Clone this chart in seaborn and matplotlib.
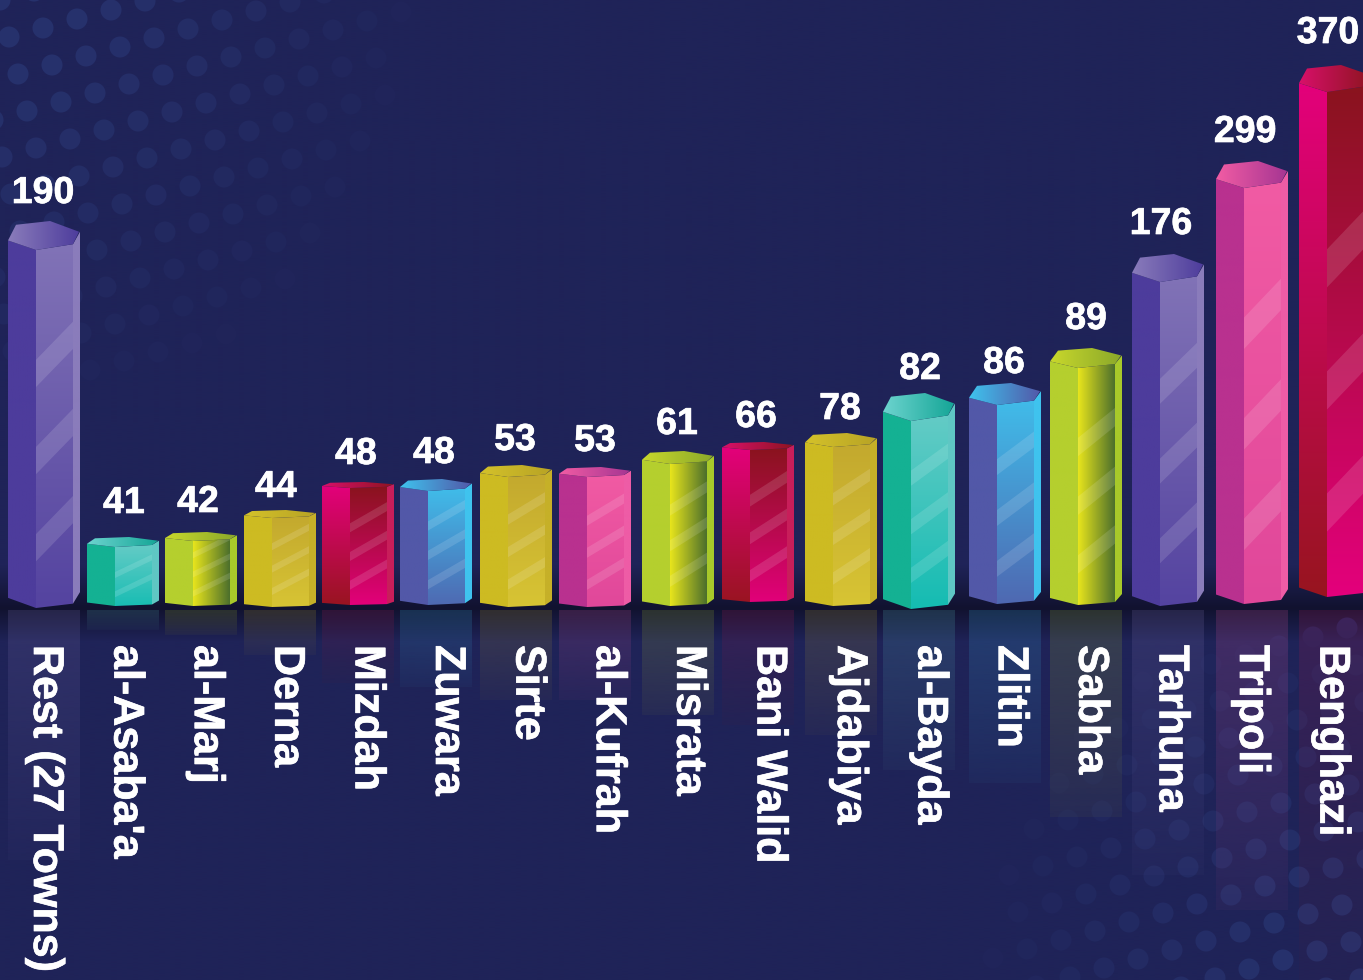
import numpy as np
import pandas as pd
import seaborn as sns
import matplotlib.pyplot as plt
import matplotlib.patheffects as pe
from matplotlib.colors import to_rgb
from matplotlib.patches import Polygon

# the picture's bars are not drawn to scale with their numbers, so both are kept
towns = ["Rest (27 Towns)", "al-Asaba'a", "al-Marj", "Derna", "Mizdah", "Zuwara", "Sirte", "al-Kufrah",
         "Misrata", "Bani Walid", "Ajdabiya", "al-Bayda", "Zlitin", "Sabha", "Tarhuna", "Tripoli", "Benghazi"]
values = [190, 41, 42, 44, 48, 48, 53, 53, 61, 66, 78, 82, 86, 89, 176, 299, 370]
bar_heights = [389, 73, 78, 100, 128, 131, 145, 143, 159, 168, 177, 217, 227, 262, 356, 449, 545]
reflections = [250, 20, 25, 45, 73, 77, 90, 90, 105, 115, 125, 160, 173, 207, 265, 300, 375]
themes = ["violet", "teal", "lime", "gold", "crimson", "sky", "gold", "pink",
          "lime", "crimson", "gold", "teal", "sky", "lime", "violet", "pink", "crimson"]

# layout, in pixels
bar_left = [8, 87, 165, 244, 322, 400, 480, 559, 642, 722, 805, 883, 969, 1050, 1132, 1216, 1299]
cap_depth = [29, 10, 9, 8, 6, 12, 12, 10, 13, 8, 14, 28, 22, 20, 28, 27, 27]
foot_lift = [2, 4, 4, 3, 5, 5, 3, 3, 4, 8, 4, 1, 6, 5, 4, 6, 13]
value_x = [43, 124, 198, 276, 356, 434, 515, 595, 677, 756, 840, 920, 1004, 1086, 1161, 1245, 1328]
value_y = [193, 503, 502, 487, 454, 453, 440, 441, 424, 417, 409, 369, 363, 319, 224, 132, 33]
name_x0, name_step, name_top = 45, 80.4, 645
floor_y = 610

# left top, left bottom, main top, main bottom, strip, cap left, cap right
palette = {
    "violet": ["#4d3c9c", "#4d3c9c", "#8476b8", "#5443a0", "#8a7cbb", "#8a7cbb", "#4d3c9c"],
    "teal": ["#14b193", "#14b193", "#6dcdc8", "#14bcb2", "#5fc7c4", "#6dd4cf", "#14a596"],
    "lime": ["#b5cf2e", "#b5cf2e", "#e8e51c", "#e8e51c", "#a8c92a", "#c9d82c", "#8aa82a"],
    "gold": ["#cdbb22", "#cdbb22", "#c2a72e", "#d8c534", "#c6b028", "#d4c22a", "#b8a325"],
    "crimson": ["#e6007e", "#96151d", "#86141a", "#e6007e", "#c81e5a", "#d8106a", "#8e1420"],
    "sky": ["#5258a8", "#5258a8", "#3fc3ee", "#4f66b0", "#3fc3ee", "#3fc3ee", "#5258a8"],
    "pink": ["#b9318f", "#b9318f", "#f25ca4", "#e0479a", "#ee5ca6", "#f25ca4", "#a53592"],
}

background = "#1f2358"
horizon = "#11122f"

sns.set_theme(style="white")
plt.rcParams["font.family"] = ["Liberation Sans", "DejaVu Sans"]

fig = plt.figure(figsize=(13.63, 9.8), dpi=100)
ax = fig.add_axes([0, 0, 1, 1])


def gradient(extent, first, second, horizontal=False, clip=None, zorder=2, alpha=(1, 1)):
    # first colour is the top (or left) end
    n = 128
    t = np.linspace(0, 1, n)
    rgba = np.zeros((1, n, 4)) if horizontal else np.zeros((n, 1, 4))
    c0, c1 = np.array(to_rgb(first)), np.array(to_rgb(second))
    cols = np.outer(1 - t, c0) + np.outer(t, c1)
    al = alpha[0] + (alpha[1] - alpha[0]) * t
    if horizontal:
        rgba[0, :, :3], rgba[0, :, 3] = cols, al
    else:
        rgba[:, 0, :3], rgba[:, 0, 3] = cols, al
    im = ax.imshow(rgba, extent=extent, origin="upper", aspect="auto", zorder=zorder, interpolation="bilinear")
    if clip is not None:
        im.set_clip_path(clip)
    return im


def polygon(points, zorder):
    patch = Polygon(points, closed=True, transform=ax.transData, facecolor="none", edgecolor="none", zorder=zorder)
    ax.add_patch(patch)
    return patch


# background with the dark band at the floor line
gradient([0, 1363, 45, 610], background, background, zorder=0)
gradient([0, 1363, 2, 45], background, horizon, zorder=0)
gradient([0, 1363, -32, 2], horizon, background, zorder=0)
gradient([0, 1363, -370, -32], background, background, zorder=0)

# dot texture in the corners
ii, jj = np.meshgrid(np.arange(-5, 50), np.arange(-30, 45))
dot_x = (34 * ii + 9 * jj).ravel()
dot_py = (-9 * ii + 37 * jj).ravel()
strength = np.maximum(1 - np.hypot(dot_x, dot_py) / 430, 1 - np.hypot(dot_x - 1363, dot_py - 980) / 400)
keep = (strength > 0.05) & (dot_x > -20) & (dot_x < 1385) & (dot_py > -20) & (dot_py < 1000)
dots = pd.DataFrame({"x": dot_x[keep], "y": floor_y - dot_py[keep], "s": strength[keep]})
sns.scatterplot(data=dots, x="x", y="y", hue="s", hue_norm=(0, 0.8), s=230, linewidth=0, legend=False,
                palette=sns.blend_palette([background, "#26316c"], as_cmap=True), ax=ax, zorder=1)

df = pd.DataFrame({
    "town": towns, "height": bar_heights, "reflection": reflections,
    "left": bar_left, "theme": themes, "depth": cap_depth, "foot": foot_lift,
})
spacing = np.diff(df["left"]).min()

# reflections on the floor
sns.barplot(x=df["left"] + 36.0, y=-df["reflection"], native_scale=True, width=72 / spacing, color=background,
            saturation=1, ax=ax, zorder=2)
for bar, row in zip(ax.containers[-1], df.itertuples()):
    bar.set_alpha(0)
    cols = palette[row.theme]
    gradient([row.left, row.left + 72, -row.reflection, row.foot - 2], cols[4], cols[2], zorder=2,
             clip=bar, alpha=(0.18, 0.04))

# the three visible faces of each prism are three sets of bars
faces = {"left": (0, 28), "main": (28, 65), "strip": (65, 72)}
containers = {}
for face, (a, b) in faces.items():
    sns.barplot(x=df["left"] + (a + b) / 2, y=df["height"], native_scale=True, width=(b - a) / spacing,
                color=background, saturation=1, ax=ax, zorder=3)
    containers[face] = ax.containers[-1]

for i, row in enumerate(df.itertuples()):
    x0, D, H, foot = row.left, row.depth, row.height, row.foot
    top = H
    bottom = foot
    cols = palette[row.theme]
    lt, md, rt = top - 0.67 * D, top - D, top - 0.8 * D
    left_poly = polygon([(x0, lt), (x0 + 28, md), (x0 + 28, bottom), (x0, bottom + 0.35 * D)], 3)
    main_poly = polygon([(x0 + 28, md), (x0 + 65, rt), (x0 + 65, bottom + 0.15 * D), (x0 + 28, bottom)], 3)
    strip_poly = polygon([(x0 + 65, rt), (x0 + 72, top - 0.37 * D), (x0 + 72, bottom + 0.55 * D),
                          (x0 + 65, bottom + 0.15 * D)], 3)

    for face in faces:
        containers[face][i].set_alpha(0)

    gradient([x0, x0 + 28, 0, H], cols[0], cols[1], clip=left_poly, zorder=3)
    if row.theme == "lime":
        gradient([x0 + 28, x0 + 65, 0, H], cols[2], "#4c6f2c", horizontal=True, clip=main_poly, zorder=3)
    else:
        gradient([x0 + 28, x0 + 65, 0, H], cols[2], cols[3], clip=main_poly, zorder=3)
    gradient([x0 + 65, x0 + 72, 0, H], cols[4], cols[4], clip=strip_poly, zorder=3)

    # diagonal shine on the main face
    slope = 0.35 + 0.7 * min(1, H / 400)
    thick = max(6, 0.07 * H)
    y = bottom + 0.12 * H
    while y < md - 0.2 * H:
        shine = ax.fill([x0 + 28, x0 + 65, x0 + 65, x0 + 28],
                        [y, y + 37 * slope, y + 37 * slope + thick, y + thick],
                        color="white", alpha=0.13, linewidth=0, zorder=4)[0]
        shine.set_clip_path(main_poly)
        y += 3.2 * thick

    cap = polygon([(x0, lt), (x0 + 8, top - 0.13 * D), (x0 + 42, top), (x0 + 71, top - 0.37 * D),
                   (x0 + 65, rt), (x0 + 28, md)], 5)
    gradient([x0, x0 + 72, md, top], cols[5], cols[6], horizontal=True, clip=cap, zorder=5)

stroke = [pe.withStroke(linewidth=0.5, foreground="white")]
for x, y, value in zip(value_x, value_y, values):
    ax.text(x, floor_y - y, str(value), color="white", fontsize=27, fontweight="bold",
            ha="center", va="center", zorder=7, path_effects=stroke)

for i, town in enumerate(towns):
    ax.text(name_x0 + name_step * i, floor_y - name_top, town, color="white", fontsize=31, fontweight="bold",
            rotation=270, ha="center", va="top", zorder=7, path_effects=stroke)

ax.set_xlim(0, 1363)
ax.set_ylim(floor_y - 980, floor_y)
ax.set_axis_off()

fig.savefig("out.png", dpi=100)
plt.close()
